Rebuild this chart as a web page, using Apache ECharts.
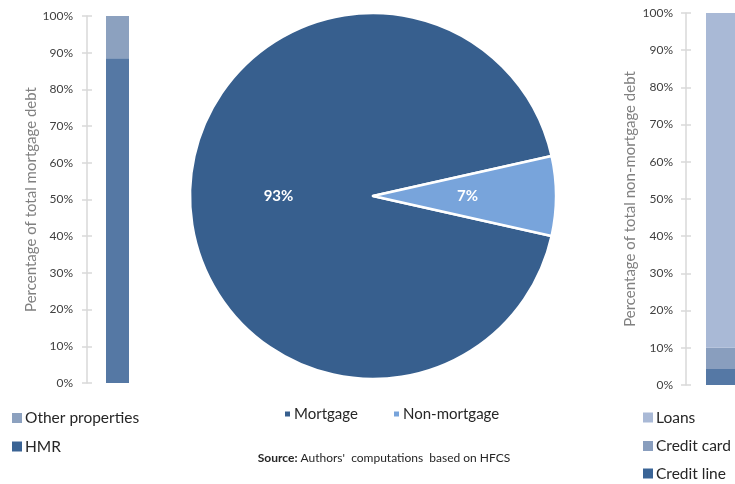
<!DOCTYPE html>
<html>
<head>
<meta charset="utf-8">
<script src="https://cdn.jsdelivr.net/npm/echarts@6/dist/echarts.min.js"></script>
<style>
  html, body { margin: 0; padding: 0; background: #ffffff; }
  #chart { width: 735px; height: 484px; }
</style>
</head>
<body>
<div id="chart"></div>
<script>
// Composition of household debt (shares in %)
const debtTypes = ['Mortgage', 'Non-mortgage'];
const debtShares = [93, 7];

// Mortgage debt split
const mortgageCategories = ['HMR', 'Other properties'];
const mortgageShares = [88.5, 11.5];

// Non-mortgage debt split
const nonMortgageCategories = ['Credit line', 'Credit card', 'Loans'];
const nonMortgageShares = [4.3, 5.7, 90.0];

const percentTicks = ['0%', '10%', '20%', '30%', '40%', '50%', '60%', '70%', '80%', '90%', '100%'];

const FONT = 'Lato, "Liberation Sans", sans-serif';

const pieColors = ['#375F8E', '#78A4DB'];
const mortgageBarColors = ['#5578A4', '#8CA1BF'];
const mortgageLegendColors = ['#3A6394', '#8CA1BF'];
const nonMortgageBarColors = ['#5578A5', '#899EBE', '#A9B9D6'];
const nonMortgageLegendColors = ['#3A6496', '#899EBE', '#A9B9D6'];

function percentAxis(gridIndex, name, margin, nameGap) {
  return {
    type: 'value',
    gridIndex: gridIndex,
    position: 'left',
    min: 0,
    max: 100,
    interval: 10,
    name: name,
    nameLocation: 'middle',
    nameGap: nameGap,
    nameTextStyle: { color: '#808080', fontSize: 15, fontFamily: FONT },
    axisLine: { show: true, lineStyle: { color: '#D9D9D9', width: 1.5 } },
    axisTick: { show: true, length: 5, lineStyle: { color: '#D9D9D9', width: 1.5 } },
    axisLabel: {
      color: '#404040', fontSize: 12, fontFamily: FONT, margin: margin,
      formatter: v => percentTicks[Math.round(v / 10)]
    },
    splitLine: { show: false }
  };
}

// companion axis giving the ticks their inward half
function innerTickAxis(gridIndex) {
  return {
    type: 'value',
    gridIndex: gridIndex,
    position: 'left',
    offset: 0,
    min: 0,
    max: 100,
    interval: 10,
    axisLine: { show: false },
    axisTick: { show: true, inside: true, length: 5, lineStyle: { color: '#D9D9D9', width: 1.5 } },
    axisLabel: { show: false },
    splitLine: { show: false }
  };
}

// one legend entry placed at a given left edge and vertical centre
function legendEntry(name, color, left, centerY, size, fontSize) {
  return {
    left: left,
    top: centerY - size / 2,
    icon: 'rect',
    itemWidth: size,
    itemHeight: size,
    padding: 0,
    textStyle: { color: '#262626', fontSize: fontSize, fontFamily: FONT, lineHeight: size, padding: [0, 0, 0, -2] },
    data: [{ name: name, itemStyle: { color: color } }]
  };
}

const option = {
  backgroundColor: '#ffffff',
  animation: false,
  textStyle: { fontFamily: FONT },
  grid: [
    { left: 87, top: 16, bottom: 101, width: 61, outerBoundsMode: 'none' },
    { left: 686, top: 13, bottom: 99, width: 80, outerBoundsMode: 'none' }
  ],
  xAxis: [
    { type: 'category', gridIndex: 0, data: ['Mortgage debt'], show: false },
    { type: 'category', gridIndex: 1, data: ['Non-mortgage debt'], show: false }
  ],
  yAxis: [
    percentAxis(0, 'Percentage of total mortgage debt', 14, 48),
    percentAxis(1, 'Percentage of total non-mortgage debt', 13, 48),
    innerTickAxis(0),
    innerTickAxis(1)
  ],
  legend: [
    legendEntry(mortgageCategories[1], mortgageLegendColors[1], 12, 415, 10, 15.5),
    legendEntry(mortgageCategories[0], mortgageLegendColors[0], 12, 443.5, 10, 15.5),
    legendEntry(debtTypes[0], pieColors[0], 283, 410, 7, 15),
    legendEntry(debtTypes[1], pieColors[1], 392, 410, 7, 15),
    legendEntry(nonMortgageCategories[2], nonMortgageLegendColors[2], 643, 414.5, 10, 15.5),
    legendEntry(nonMortgageCategories[1], nonMortgageLegendColors[1], 643, 443, 10, 15.5),
    legendEntry(nonMortgageCategories[0], nonMortgageLegendColors[0], 643, 470.5, 10, 15.5)
  ],
  title: {
    left: 379,
    textAlign: 'center',
    top: 447,
    text: '{b|Source:} Authors\'  computations  based on HFCS',
    textStyle: {
      fontSize: 12, fontWeight: 'normal', color: '#262626', fontFamily: FONT,
      rich: { b: { fontSize: 12, fontWeight: 'bold', color: '#262626', fontFamily: FONT } }
    }
  },
  series: [
    {
      type: 'pie',
      center: [373, 196],
      radius: 183,
      startAngle: -12.6,
      clockwise: true,
      silent: true,
      data: debtTypes.map((n, i) => ({ name: n, value: debtShares[i], itemStyle: { color: pieColors[i] } })),
      itemStyle: { borderColor: '#ffffff', borderWidth: 2.5 },
      label: {
        position: 'inside',
        formatter: '{c}%',
        color: '#ffffff',
        fontSize: 15,
        fontWeight: 'bold',
        fontFamily: FONT
      },
      labelLine: { show: false }
    },
    ...mortgageCategories.map((n, i) => ({
      name: n,
      type: 'bar',
      xAxisIndex: 0,
      yAxisIndex: 0,
      stack: 'mortgage',
      barWidth: 23,
      itemStyle: { color: mortgageBarColors[i] },
      data: [mortgageShares[i]]
    })),
    ...nonMortgageCategories.map((n, i) => ({
      name: n,
      type: 'bar',
      xAxisIndex: 1,
      yAxisIndex: 1,
      stack: 'nonmortgage',
      barWidth: 40,
      itemStyle: { color: nonMortgageBarColors[i] },
      data: [nonMortgageShares[i]]
    }))
  ]
};

const chart = echarts.init(document.getElementById('chart'), null, { renderer: 'canvas' });
chart.setOption(option);
</script>
</body>
</html>
